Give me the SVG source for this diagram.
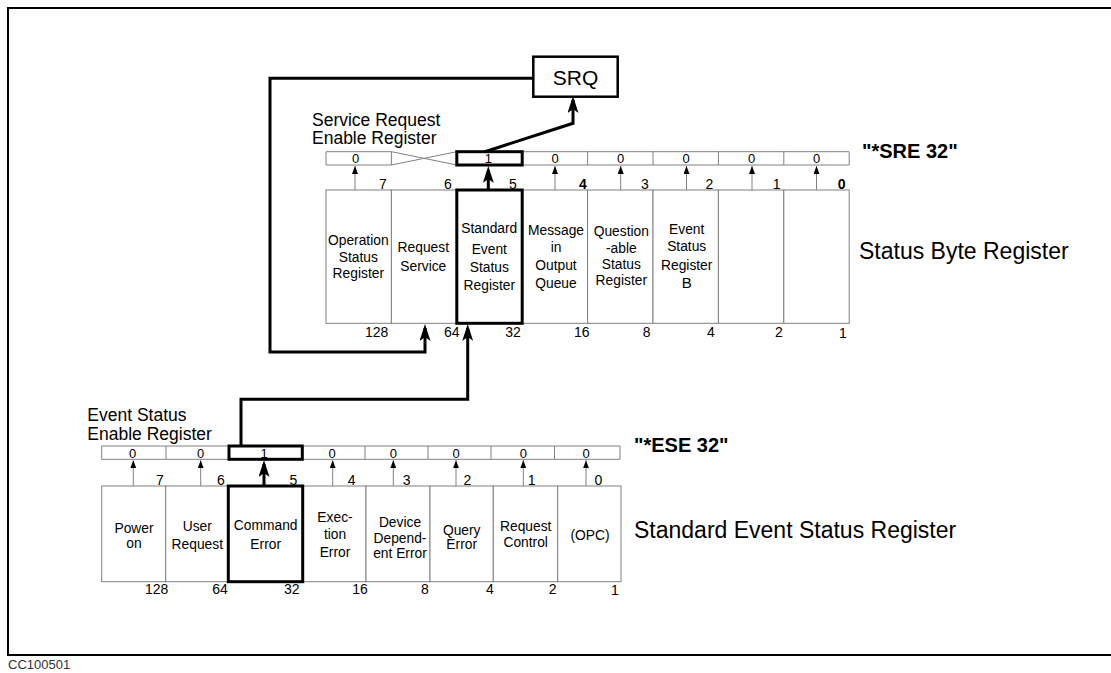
<svg xmlns="http://www.w3.org/2000/svg" width="1111" height="673" viewBox="0 0 1111 673">
<style>
text{font-family:"Liberation Sans",Arial,sans-serif;fill:#000}
.cell{fill:#fff;stroke:#808080;stroke-width:1}
.thin{stroke:#808080;stroke-width:1;fill:none}
.t{font-size:13.8px;text-anchor:middle}
.n{font-size:14px;text-anchor:middle}
.v{font-size:13px;text-anchor:middle}
.lab{font-size:17.5px}
.big{font-size:23px}
.cmd{font-size:20px;font-weight:bold}
.tarr{stroke:#808080;stroke-width:1;fill:none;marker-end:url(#ah)}
.barr{stroke:#000;stroke-width:3;fill:none;marker-end:url(#ahb)}
</style>
<defs>
<marker id="ah" markerWidth="8" markerHeight="6" refX="8" refY="3" orient="auto" markerUnits="userSpaceOnUse"><path d="M0,0 L8,3 L0,6 z" fill="#000"/></marker>
<marker id="ahb" markerWidth="17" markerHeight="11" refX="13" refY="5.5" orient="auto" markerUnits="userSpaceOnUse"><path d="M0,0 L17,5.5 L0,11 L4,5.5 z" fill="#000"/></marker>
</defs>
<rect width="1111" height="673" fill="#fff"/>
<path d="M1112,8 H8 V655 H1112" fill="none" stroke="#000" stroke-width="2"/>
<text x="8" y="669" style="font-size:13px;fill:#333">CC100501</text>

<g id="srq">
<rect x="533.3" y="56.7" width="84.4" height="40" fill="#fff" stroke="#000" stroke-width="2.5"/>
<text x="575.5" y="85" style="font-size:21px;text-anchor:middle">SRQ</text>
</g>

<g id="sre-register">
<text class="lab" x="312" y="126">Service Request</text>
<text class="lab" x="312" y="144">Enable Register</text>
<path class="thin" d="M326,151.7 H391.4 M456.8,151.7 H849.2 M326,165 H391.4 M456.8,165 H849.2 M326,151.7 V165 M391.4,151.7 V165 M522.2,151.7 V165 M587.6,151.7 V165 M653,151.7 V165 M718.4,151.7 V165 M783.8,151.7 V165 M849.2,151.7 V165 M391.4,151.7 L456.8,165 M391.4,165 L456.8,151.7"/>
<rect x="456.8" y="151.7" width="65.4" height="13.3" fill="none" stroke="#000" stroke-width="3"/>
<text class="v" x="355.7" y="162.5">0</text>
<text class="v" x="488.3" y="162.5">1</text>
<text class="v" x="555" y="162.5">0</text>
<text class="v" x="620.5" y="162.5">0</text>
<text class="v" x="686" y="162.5">0</text>
<text class="v" x="751.5" y="162.5">0</text>
<text class="v" x="816.5" y="162.5">0</text>
<text class="cmd" x="862" y="157.5">"*SRE 32"</text>
</g>

<g id="status-byte-register">
<text class="n" x="383" y="189">7</text>
<text class="n" x="448" y="189">6</text>
<text class="n" x="513" y="189">5</text>
<text class="n" x="583" y="189" style="font-weight:bold">4</text>
<text class="n" x="645" y="189">3</text>
<text class="n" x="709.3" y="189">2</text>
<text class="n" x="776.7" y="189">1</text>
<text class="n" x="841.7" y="189" style="font-weight:bold">0</text>
<rect class="cell" x="326" y="190" width="65.4" height="133.3"/>
<rect class="cell" x="391.4" y="190" width="65.4" height="133.3"/>
<rect class="cell" x="522.2" y="190" width="65.4" height="133.3"/>
<rect class="cell" x="587.6" y="190" width="65.4" height="133.3"/>
<rect class="cell" x="653" y="190" width="65.4" height="133.3"/>
<rect class="cell" x="718.4" y="190" width="65.4" height="133.3"/>
<rect class="cell" x="783.8" y="190" width="65.4" height="133.3"/>
<rect x="456.8" y="190" width="65.4" height="133.3" fill="#fff" stroke="#000" stroke-width="3"/>
<text class="t" x="358.3" y="244.5">Operation</text>
<text class="t" x="358.3" y="261.5">Status</text>
<text class="t" x="358.3" y="278">Register</text>
<text class="t" x="423.3" y="252.2">Request</text>
<text class="t" x="423.3" y="270.5">Service</text>
<text class="t" x="489.3" y="233">Standard</text>
<text class="t" x="489.3" y="254">Event</text>
<text class="t" x="489.3" y="272">Status</text>
<text class="t" x="489.3" y="289.5">Register</text>
<text class="t" x="556" y="234.5">Message</text>
<text class="t" x="556" y="252">in</text>
<text class="t" x="556" y="270">Output</text>
<text class="t" x="556" y="288">Queue</text>
<text class="t" x="621.3" y="236">Question</text>
<text class="t" x="621.3" y="253">-able</text>
<text class="t" x="621.3" y="269">Status</text>
<text class="t" x="621.3" y="285">Register</text>
<text class="t" x="686.7" y="234">Event</text>
<text class="t" x="686.7" y="251">Status</text>
<text class="t" x="686.7" y="270">Register</text>
<text class="t" x="686.7" y="288" style="font-size:15px">B</text>
<text class="n" x="376.7" y="337">128</text>
<text class="n" x="451.7" y="337">64</text>
<text class="n" x="513" y="337">32</text>
<text class="n" x="581.7" y="337">16</text>
<text class="n" x="646.7" y="337">8</text>
<text class="n" x="711" y="337">4</text>
<text class="n" x="779" y="337">2</text>
<text class="n" x="843" y="338">1</text>
<text class="big" x="859" y="259">Status Byte Register</text>
</g>

<g id="ese-register">
<text class="lab" x="87.3" y="421">Event Status</text>
<text class="lab" x="87.3" y="440">Enable Register</text>
<path class="thin" d="M101.7,446 H620 V459.3 H101.7 Z M166,446 V459.3 M229,446 V459.3 M302.3,446 V459.3 M365,446 V459.3 M428,446 V459.3 M491,446 V459.3 M554.5,446 V459.3"/>
<rect x="229" y="446" width="73.3" height="13.3" fill="none" stroke="#000" stroke-width="3"/>
<text class="v" x="132.7" y="457.5">0</text>
<text class="v" x="200.7" y="457.5">0</text>
<text class="v" x="264" y="457.5">1</text>
<text class="v" x="332" y="457.5">0</text>
<text class="v" x="393.3" y="457.5">0</text>
<text class="v" x="456" y="457.5">0</text>
<text class="v" x="523.3" y="457.5">0</text>
<text class="v" x="586" y="457.5">0</text>
<text class="cmd" x="634" y="451.5">"*ESE 32"</text>
</g>

<g id="standard-event-status-register">
<text class="n" x="160" y="485">7</text>
<text class="n" x="221" y="485">6</text>
<text class="n" x="293.3" y="485">5</text>
<text class="n" x="351.7" y="485">4</text>
<text class="n" x="406.7" y="485">3</text>
<text class="n" x="467.3" y="485">2</text>
<text class="n" x="531.7" y="485">1</text>
<text class="n" x="598.3" y="485">0</text>
<rect class="cell" x="101.7" y="486" width="64" height="95.7"/>
<rect class="cell" x="165.7" y="486" width="62.6" height="95.7"/>
<rect class="cell" x="302.7" y="486" width="63.3" height="95.7"/>
<rect class="cell" x="366" y="486" width="64" height="95.7"/>
<rect class="cell" x="430" y="486" width="63.3" height="95.7"/>
<rect class="cell" x="493.3" y="486" width="64.4" height="95.7"/>
<rect class="cell" x="557.7" y="486" width="63.3" height="95.7"/>
<rect x="228.3" y="486" width="74.4" height="95.7" fill="#fff" stroke="#000" stroke-width="3"/>
<text class="t" x="134" y="533">Power</text>
<text class="t" x="134" y="548">on</text>
<text class="t" x="197.3" y="531">User</text>
<text class="t" x="197.3" y="549">Request</text>
<text class="t" x="265.7" y="530">Command</text>
<text class="t" x="265.7" y="548.5">Error</text>
<text class="t" x="335" y="522">Exec-</text>
<text class="t" x="335" y="539">tion</text>
<text class="t" x="335" y="557">Error</text>
<text class="t" x="400" y="527">Device</text>
<text class="t" x="400" y="543">Depend-</text>
<text class="t" x="400" y="558">ent Error</text>
<text class="t" x="461.7" y="534.5">Query</text>
<text class="t" x="461.7" y="549">Error</text>
<text class="t" x="525.7" y="531">Request</text>
<text class="t" x="525.7" y="547">Control</text>
<text class="t" x="590" y="539.5">(OPC)</text>
<text class="n" x="156.7" y="594">128</text>
<text class="n" x="220" y="594">64</text>
<text class="n" x="291.7" y="594">32</text>
<text class="n" x="360" y="594">16</text>
<text class="n" x="425" y="594">8</text>
<text class="n" x="490" y="594">4</text>
<text class="n" x="552.7" y="594">2</text>
<text class="n" x="615" y="595">1</text>
<text class="big" x="634" y="538">Standard Event Status Register</text>
</g>

<g id="connectors">
<path class="tarr" d="M355,190 V166"/>
<path class="tarr" d="M555,190 V166"/>
<path class="tarr" d="M620.7,190 V166"/>
<path class="tarr" d="M686.5,190 V166"/>
<path class="tarr" d="M752,190 V166"/>
<path class="tarr" d="M816.5,190 V166"/>
<path class="barr" d="M488.3,190 V170"/>
<path class="barr" d="M485,151.7 L573,123.3 V100"/>
<path class="barr" d="M533.3,78.3 H270 V352 H425 V328"/>
<path class="barr" d="M241,446 V399.3 H467.7 V328"/>
<path class="tarr" d="M133.3,486 V460.3"/>
<path class="tarr" d="M200.7,486 V460.3"/>
<path class="tarr" d="M332.7,486 V460.3"/>
<path class="tarr" d="M393.3,486 V460.3"/>
<path class="tarr" d="M456,486 V460.3"/>
<path class="tarr" d="M523.3,486 V460.3"/>
<path class="tarr" d="M586,486 V460.3"/>
<path class="barr" d="M264,486 V464"/>
</g>
</svg>
